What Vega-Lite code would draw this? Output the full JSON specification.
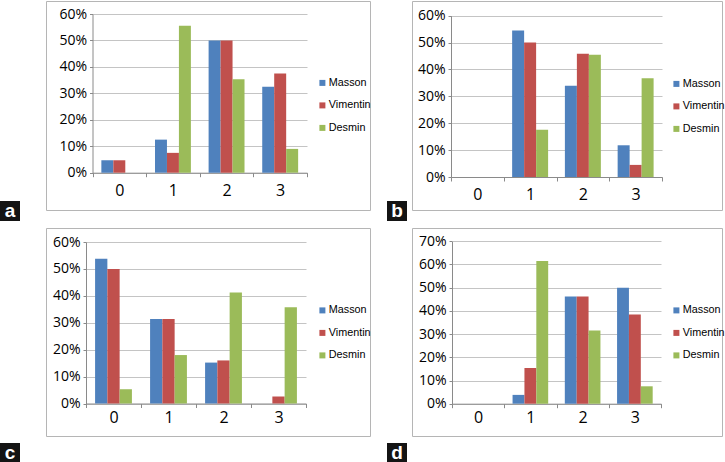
{
  "$schema": "https://vega.github.io/schema/vega-lite/v6.json",
  "padding": 0,
  "background": "white",
  "config": {
    "view": {"stroke": null},
    "font": "Open Sans",
    "axis": {"labelFont": "Open Sans", "labelColor": "#000000", "title": null},
    "legend": {"labelFont": "Liberation Sans", "labelColor": "#000000", "padding": 0}
  },
  "datasets": {
    "main": [
      {"panel": "a", "grade": "0", "stain": "Masson", "value": 0.047},
      {"panel": "a", "grade": "0", "stain": "Vimentin", "value": 0.047},
      {"panel": "a", "grade": "0", "stain": "Desmin", "value": 0},
      {"panel": "a", "grade": "1", "stain": "Masson", "value": 0.125},
      {"panel": "a", "grade": "1", "stain": "Vimentin", "value": 0.075},
      {"panel": "a", "grade": "1", "stain": "Desmin", "value": 0.556},
      {"panel": "a", "grade": "2", "stain": "Masson", "value": 0.5},
      {"panel": "a", "grade": "2", "stain": "Vimentin", "value": 0.5},
      {"panel": "a", "grade": "2", "stain": "Desmin", "value": 0.353},
      {"panel": "a", "grade": "3", "stain": "Masson", "value": 0.325},
      {"panel": "a", "grade": "3", "stain": "Vimentin", "value": 0.375},
      {"panel": "a", "grade": "3", "stain": "Desmin", "value": 0.09},
      {"panel": "b", "grade": "0", "stain": "Masson", "value": 0},
      {"panel": "b", "grade": "0", "stain": "Vimentin", "value": 0},
      {"panel": "b", "grade": "0", "stain": "Desmin", "value": 0},
      {"panel": "b", "grade": "1", "stain": "Masson", "value": 0.545},
      {"panel": "b", "grade": "1", "stain": "Vimentin", "value": 0.5},
      {"panel": "b", "grade": "1", "stain": "Desmin", "value": 0.176},
      {"panel": "b", "grade": "2", "stain": "Masson", "value": 0.339},
      {"panel": "b", "grade": "2", "stain": "Vimentin", "value": 0.458},
      {"panel": "b", "grade": "2", "stain": "Desmin", "value": 0.455},
      {"panel": "b", "grade": "3", "stain": "Masson", "value": 0.118},
      {"panel": "b", "grade": "3", "stain": "Vimentin", "value": 0.045},
      {"panel": "b", "grade": "3", "stain": "Desmin", "value": 0.367},
      {"panel": "c", "grade": "0", "stain": "Masson", "value": 0.538},
      {"panel": "c", "grade": "0", "stain": "Vimentin", "value": 0.5},
      {"panel": "c", "grade": "0", "stain": "Desmin", "value": 0.053},
      {"panel": "c", "grade": "1", "stain": "Masson", "value": 0.314},
      {"panel": "c", "grade": "1", "stain": "Vimentin", "value": 0.314},
      {"panel": "c", "grade": "1", "stain": "Desmin", "value": 0.18},
      {"panel": "c", "grade": "2", "stain": "Masson", "value": 0.152},
      {"panel": "c", "grade": "2", "stain": "Vimentin", "value": 0.16},
      {"panel": "c", "grade": "2", "stain": "Desmin", "value": 0.412},
      {"panel": "c", "grade": "3", "stain": "Masson", "value": 0},
      {"panel": "c", "grade": "3", "stain": "Vimentin", "value": 0.026},
      {"panel": "c", "grade": "3", "stain": "Desmin", "value": 0.358},
      {"panel": "d", "grade": "0", "stain": "Masson", "value": 0},
      {"panel": "d", "grade": "0", "stain": "Vimentin", "value": 0},
      {"panel": "d", "grade": "0", "stain": "Desmin", "value": 0},
      {"panel": "d", "grade": "1", "stain": "Masson", "value": 0.038},
      {"panel": "d", "grade": "1", "stain": "Vimentin", "value": 0.154},
      {"panel": "d", "grade": "1", "stain": "Desmin", "value": 0.615},
      {"panel": "d", "grade": "2", "stain": "Masson", "value": 0.462},
      {"panel": "d", "grade": "2", "stain": "Vimentin", "value": 0.462},
      {"panel": "d", "grade": "2", "stain": "Desmin", "value": 0.316},
      {"panel": "d", "grade": "3", "stain": "Masson", "value": 0.5},
      {"panel": "d", "grade": "3", "stain": "Vimentin", "value": 0.385},
      {"panel": "d", "grade": "3", "stain": "Desmin", "value": 0.075}
    ],
    "labA": [{"label": "a"}],
    "labB": [{"label": "b"}],
    "labC": [{"label": "c"}],
    "labD": [{"label": "d"}],
    "empty": []
  },
  "spacing": 0,
  "resolve": {"scale": {"x": "independent", "y": "independent", "xOffset": "independent", "color": "independent"}, "axis": {"x": "independent", "y": "independent"}, "legend": {"color": "independent"}},
  "hconcat": [
    {
      "bounds": "flush",
      "spacing": 0,
      "vconcat": [
        {"width": 45, "height": 200, "data": {"name": "empty"}, "mark": "point"},
        {"width": 20, "height": 20, "view": {"fill": "#141414", "stroke": null}, "data": {"name": "labA"},
         "mark": {"type": "text", "color": "white", "fontSize": 19, "fontWeight": "bold", "font": "Liberation Sans", "align": "center", "baseline": "middle"},
         "encoding": {"text": {"field": "label"}}},
        {"width": 45, "height": 222, "data": {"name": "empty"}, "mark": "point"},
        {"width": 20, "height": 20, "view": {"fill": "#141414", "stroke": null}, "data": {"name": "labC"},
         "mark": {"type": "text", "color": "white", "fontSize": 19, "fontWeight": "bold", "font": "Liberation Sans", "align": "center", "baseline": "middle"},
         "encoding": {"text": {"field": "label"}}}
      ]
    },
    {
      "bounds": "flush",
      "spacing": 18,
      "resolve": {"scale": {"x": "independent", "y": "independent", "xOffset": "independent", "color": "independent"}, "axis": {"x": "independent", "y": "independent"}, "legend": {"color": "independent"}},
      "vconcat": [
        {
          "width": 324, "height": 209,
          "view": {"stroke": "#b5b5b5", "strokeWidth": 1},
          "data": {"name": "main"},
          "transform": [{"filter": "datum.panel === 'a'"}],
          "mark": {"type": "bar"},
          "encoding": {
            "x": {"field": "grade", "type": "nominal", "scale": {"domain": ["0", "1", "2", "3"], "range": [46.5, 261], "paddingInner": 0, "paddingOuter": 0},
                  "axis": {"orient": "bottom", "offset": -37.3, "labelAngle": 0, "tickBand": "extent", "domainColor": "#8a8a8a", "tickColor": "#8a8a8a", "tickSize": 4, "labelFontSize": 16, "labelPadding": 6, "grid": false}},
            "xOffset": {"field": "stain", "type": "nominal", "sort": ["Masson", "Vimentin", "Desmin"], "scale": {"paddingInner": 0, "paddingOuter": 0.74}},
            "y": {"field": "value", "type": "quantitative", "scale": {"domain": [0, 0.6], "range": [171.7, 13], "nice": false},
                  "axis": {"orient": "left", "offset": -46.5, "values": [0, 0.1, 0.2, 0.3, 0.4, 0.5, 0.6], "format": ".0%", "grid": true, "gridColor": "#c4c4c4", "domainColor": "#8a8a8a", "tickColor": "#8a8a8a", "tickSize": 3, "labelFontSize": 14, "labelPadding": 3}},
            "color": {"field": "stain", "type": "nominal", "sort": ["Masson", "Vimentin", "Desmin"],
                      "scale": {"domain": ["Masson", "Vimentin", "Desmin"], "range": ["#4F81BD", "#C0504D", "#9BBB59"]},
                      "legend": {"orient": "none", "legendX": 271, "legendY": 76.5, "title": null, "symbolType": "square", "symbolSize": 36, "symbolStrokeWidth": 0, "labelFontSize": 10.8, "rowPadding": 10.5, "labelOffset": 1}}
          }
        },
        {
          "width": 324, "height": 208,
          "view": {"stroke": "#b5b5b5", "strokeWidth": 1},
          "data": {"name": "main"},
          "transform": [{"filter": "datum.panel === 'c'"}],
          "mark": {"type": "bar"},
          "encoding": {
            "x": {"field": "grade", "type": "nominal", "scale": {"domain": ["0", "1", "2", "3"], "range": [40, 260], "paddingInner": 0, "paddingOuter": 0},
                  "axis": {"orient": "bottom", "offset": -32.5, "labelAngle": 0, "tickBand": "extent", "domainColor": "#8a8a8a", "tickColor": "#8a8a8a", "tickSize": 4, "labelFontSize": 16, "labelPadding": 2, "grid": false}},
            "xOffset": {"field": "stain", "type": "nominal", "sort": ["Masson", "Vimentin", "Desmin"], "scale": {"paddingInner": 0, "paddingOuter": 0.74}},
            "y": {"field": "value", "type": "quantitative", "scale": {"domain": [0, 0.6], "range": [175.5, 14], "nice": false},
                  "axis": {"orient": "left", "offset": -40, "values": [0, 0.1, 0.2, 0.3, 0.4, 0.5, 0.6], "format": ".0%", "grid": true, "gridColor": "#c4c4c4", "domainColor": "#8a8a8a", "tickColor": "#8a8a8a", "tickSize": 3, "labelFontSize": 14, "labelPadding": 3}},
            "color": {"field": "stain", "type": "nominal", "sort": ["Masson", "Vimentin", "Desmin"],
                      "scale": {"domain": ["Masson", "Vimentin", "Desmin"], "range": ["#4F81BD", "#C0504D", "#9BBB59"]},
                      "legend": {"orient": "none", "legendX": 271, "legendY": 77, "title": null, "symbolType": "square", "symbolSize": 36, "symbolStrokeWidth": 0, "labelFontSize": 10.8, "rowPadding": 10.5, "labelOffset": 1}}
          }
        }
      ]
    },
    {"width": 15, "height": 10, "data": {"name": "empty"}, "mark": "point"},
    {
      "bounds": "flush",
      "spacing": 0,
      "vconcat": [
        {"width": 24, "height": 200, "data": {"name": "empty"}, "mark": "point"},
        {"width": 20, "height": 20, "view": {"fill": "#141414", "stroke": null}, "data": {"name": "labB"},
         "mark": {"type": "text", "color": "white", "fontSize": 19, "fontWeight": "bold", "font": "Liberation Sans", "align": "center", "baseline": "middle"},
         "encoding": {"text": {"field": "label"}}},
        {"width": 24, "height": 222, "data": {"name": "empty"}, "mark": "point"},
        {"width": 20, "height": 20, "view": {"fill": "#141414", "stroke": null}, "data": {"name": "labD"},
         "mark": {"type": "text", "color": "white", "fontSize": 19, "fontWeight": "bold", "font": "Liberation Sans", "align": "center", "baseline": "middle"},
         "encoding": {"text": {"field": "label"}}}
      ]
    },
    {
      "bounds": "flush",
      "spacing": 18,
      "resolve": {"scale": {"x": "independent", "y": "independent", "xOffset": "independent", "color": "independent"}, "axis": {"x": "independent", "y": "independent"}, "legend": {"color": "independent"}},
      "vconcat": [
        {
          "width": 310, "height": 209,
          "view": {"stroke": "#b5b5b5", "strokeWidth": 1},
          "data": {"name": "main"},
          "transform": [{"filter": "datum.panel === 'b'"}],
          "mark": {"type": "bar"},
          "encoding": {
            "x": {"field": "grade", "type": "nominal", "scale": {"domain": ["0", "1", "2", "3"], "range": [39, 250], "paddingInner": 0, "paddingOuter": 0},
                  "axis": {"orient": "bottom", "offset": -33, "labelAngle": 0, "tickBand": "extent", "domainColor": "#8a8a8a", "tickColor": "#8a8a8a", "tickSize": 4, "labelFontSize": 16, "labelPadding": 5, "grid": false}},
            "xOffset": {"field": "stain", "type": "nominal", "sort": ["Masson", "Vimentin", "Desmin"], "scale": {"paddingInner": 0, "paddingOuter": 0.7}},
            "y": {"field": "value", "type": "quantitative", "scale": {"domain": [0, 0.6], "range": [176, 14.7], "nice": false},
                  "axis": {"orient": "left", "offset": -39, "values": [0, 0.1, 0.2, 0.3, 0.4, 0.5, 0.6], "format": ".0%", "grid": true, "gridColor": "#c4c4c4", "domainColor": "#8a8a8a", "tickColor": "#8a8a8a", "tickSize": 3, "labelFontSize": 14, "labelPadding": 3}},
            "color": {"field": "stain", "type": "nominal", "sort": ["Masson", "Vimentin", "Desmin"],
                      "scale": {"domain": ["Masson", "Vimentin", "Desmin"], "range": ["#4F81BD", "#C0504D", "#9BBB59"]},
                      "legend": {"orient": "none", "legendX": 259, "legendY": 77.5, "title": null, "symbolType": "square", "symbolSize": 36, "symbolStrokeWidth": 0, "labelFontSize": 10.8, "rowPadding": 10.5, "labelOffset": 1}}
          }
        },
        {
          "width": 310, "height": 208,
          "view": {"stroke": "#b5b5b5", "strokeWidth": 1},
          "data": {"name": "main"},
          "transform": [{"filter": "datum.panel === 'd'"}],
          "mark": {"type": "bar"},
          "encoding": {
            "x": {"field": "grade", "type": "nominal", "scale": {"domain": ["0", "1", "2", "3"], "range": [40, 249], "paddingInner": 0, "paddingOuter": 0},
                  "axis": {"orient": "bottom", "offset": -32.3, "labelAngle": 0, "tickBand": "extent", "domainColor": "#8a8a8a", "tickColor": "#8a8a8a", "tickSize": 4, "labelFontSize": 16, "labelPadding": 2, "grid": false}},
            "xOffset": {"field": "stain", "type": "nominal", "sort": ["Masson", "Vimentin", "Desmin"], "scale": {"paddingInner": 0, "paddingOuter": 0.7}},
            "y": {"field": "value", "type": "quantitative", "scale": {"domain": [0, 0.7], "range": [175.7, 13.3], "nice": false},
                  "axis": {"orient": "left", "offset": -40, "values": [0, 0.1, 0.2, 0.3, 0.4, 0.5, 0.6, 0.7], "format": ".0%", "grid": true, "gridColor": "#c4c4c4", "domainColor": "#8a8a8a", "tickColor": "#8a8a8a", "tickSize": 3, "labelFontSize": 14, "labelPadding": 3}},
            "color": {"field": "stain", "type": "nominal", "sort": ["Masson", "Vimentin", "Desmin"],
                      "scale": {"domain": ["Masson", "Vimentin", "Desmin"], "range": ["#4F81BD", "#C0504D", "#9BBB59"]},
                      "legend": {"orient": "none", "legendX": 259, "legendY": 77, "title": null, "symbolType": "square", "symbolSize": 36, "symbolStrokeWidth": 0, "labelFontSize": 10.8, "rowPadding": 10.5, "labelOffset": 1}}
          }
        }
      ]
    }
  ]
}
